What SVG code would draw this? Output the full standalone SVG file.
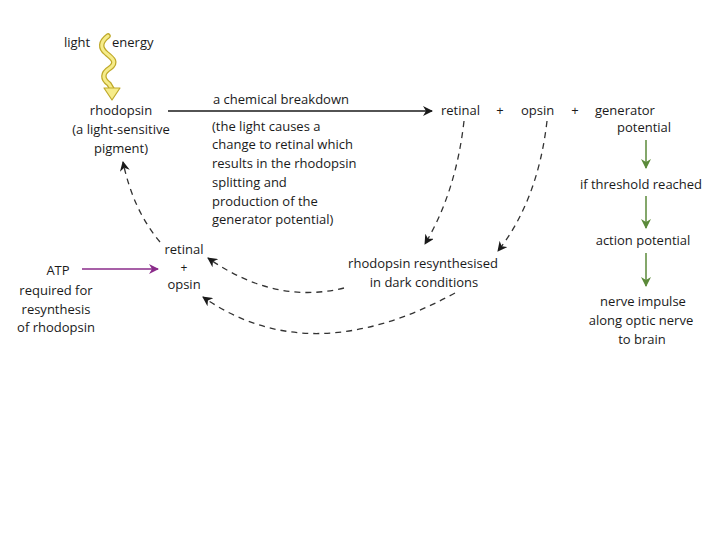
<svg xmlns="http://www.w3.org/2000/svg" width="720" height="540" viewBox="0 0 720 540">
<defs>
<marker id="ah" viewBox="0 0 10 10" refX="9" refY="5" markerWidth="10" markerHeight="10" markerUnits="userSpaceOnUse" orient="auto">
<path d="M0,0 L10,5 L0,10 L3,5 Z" fill="#1a1a1a"/>
</marker>
<marker id="ahg" viewBox="0 0 10 10" refX="9" refY="5" markerWidth="10" markerHeight="10" markerUnits="userSpaceOnUse" orient="auto">
<path d="M0,0 L10,5 L0,10 L3,5 Z" fill="#5b8a3a"/>
</marker>
<marker id="ahp" viewBox="0 0 10 10" refX="9" refY="5" markerWidth="10" markerHeight="10" markerUnits="userSpaceOnUse" orient="auto">
<path d="M0,0 L10,5 L0,10 L3,5 Z" fill="#8a2b8a"/>
</marker>
</defs>
<style>
text{font-family:"Open Sans","Noto Sans","Liberation Sans",sans-serif;font-size:13px;fill:#1a1a1a}
.c{text-anchor:middle}
.dash{fill:none;stroke:#333;stroke-width:1.3;stroke-dasharray:6 5;marker-end:url(#ah)}
.g{stroke:#5b8a3a;stroke-width:1.5;fill:none;marker-end:url(#ahg)}
</style>
<rect width="720" height="540" fill="#fff"/>

<g id="light">
<text x="64" y="47">light</text>
<text x="112" y="47">energy</text>
<path d="M108,36 C100,42 100,48 106,53 C112,58 118,62 110,68 C102,73 102,79 109,84 L112,89" fill="none" stroke="#bfa92a" stroke-width="5.5" stroke-linecap="round"/>
<path d="M108,36 C100,42 100,48 106,53 C112,58 118,62 110,68 C102,73 102,79 109,84 L112,89" fill="none" stroke="#f6ec8a" stroke-width="3" stroke-linecap="round"/>
<path d="M104,88 L120,88 L112,100 Z" fill="#f6ec8a" stroke="#bfa92a" stroke-width="1.2" stroke-linejoin="round"/>
</g>

<g id="rhodopsin">
<text class="c" x="121" y="115">rhodopsin</text>
<text class="c" x="121" y="134">(a light-sensitive</text>
<text class="c" x="121" y="153">pigment)</text>
</g>

<g id="breakdown">
<text x="213" y="104">a chemical breakdown</text>
<text x="212" y="131">(the light causes a</text>
<text x="212" y="149">change to retinal which</text>
<text x="212" y="168">results in the rhodopsin</text>
<text x="212" y="187">splitting and</text>
<text x="212" y="206">production of the</text>
<text x="212" y="224">generator potential)</text>
</g>

<g id="products">
<text x="441" y="115">retinal</text>
<text class="c" x="500" y="115">+</text>
<text x="521" y="115">opsin</text>
<text class="c" x="575" y="115">+</text>
<text x="595" y="115">generator</text>
<text x="617" y="132">potential</text>
</g>

<g id="threshold"><text class="c" x="641" y="189">if threshold reached</text></g>
<g id="action"><text class="c" x="643" y="245">action potential</text></g>
<g id="nerve">
<text class="c" x="643" y="306">nerve impulse</text>
<text class="c" x="641" y="325">along optic nerve</text>
<text class="c" x="642" y="344">to brain</text>
</g>

<g id="retinal-opsin">
<text class="c" x="184" y="254">retinal</text>
<text class="c" x="184" y="272" style="font-size:12px">+</text>
<text class="c" x="184" y="289">opsin</text>
</g>

<g id="atp">
<text class="c" x="58" y="275">ATP</text>
<text class="c" x="56" y="295">required for</text>
<text class="c" x="56" y="314">resynthesis</text>
<text class="c" x="56" y="332">of rhodopsin</text>
</g>

<g id="resynth">
<text class="c" x="423" y="268">rhodopsin resynthesised</text>
<text class="c" x="424" y="287">in dark conditions</text>
</g>

<g id="connectors">
<line x1="168" y1="111" x2="432" y2="111" stroke="#1a1a1a" stroke-width="1.3" marker-end="url(#ah)"/>
<line x1="646" y1="140" x2="646" y2="168" class="g"/>
<line x1="646" y1="196" x2="646" y2="228" class="g"/>
<line x1="646" y1="253" x2="646" y2="286" class="g"/>
<line x1="82" y1="269" x2="158" y2="269" stroke="#8a2b8a" stroke-width="1.5" marker-end="url(#ahp)"/>
<path class="dash" d="M464,121 Q456,192 425,244"/>
<path class="dash" d="M547,121 Q538,200 498,251"/>
<path class="dash" d="M344,288 Q275,305 208,258"/>
<path class="dash" d="M455,293 Q310,372 203,297"/>
<path class="dash" d="M160,242 Q133,210 123,162"/>
</g>
</svg>
